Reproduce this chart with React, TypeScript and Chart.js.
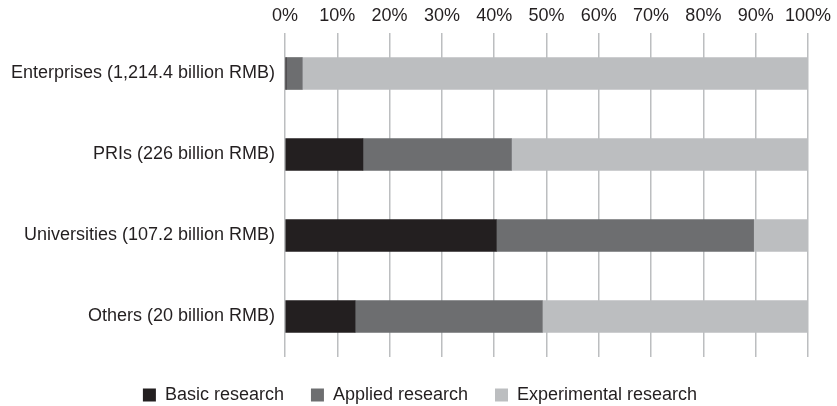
import React, { useEffect, useRef } from "react";
import { Chart, registerables } from "chart.js";

Chart.register(...registerables);

const categories = [
  "Enterprises (1,214.4 billion RMB)",
  "PRIs (226 billion RMB)",
  "Universities (107.2 billion RMB)",
  "Others (20 billion RMB)",
];

const basicResearch = [0.2, 14.9, 40.4, 13.4];
const appliedResearch = [3.1, 28.4, 49.2, 35.8];
const experimentalResearch = [96.7, 56.7, 10.4, 50.8];

const seriesNames = ["Basic research", "Applied research", "Experimental research"];
const seriesColors = ["#231f20", "#6d6e70", "#bcbec0"];

const xTicks = [0, 10, 20, 30, 40, 50, 60, 70, 80, 90, 100];

const FONT = "'Liberation Sans', Arial, Helvetica, sans-serif";
const TEXT = "#231f20";
const SIZE = 18;

// Nudges the legend row so it sits under the centre of the whole figure
const legendShift = {
  id: "legendShift",
  afterLayout(chart: any) {
    const legend = chart.legend;
    if (legend) {
      legend.left += 16;
      legend.right += 16;
      legend.top += 2;
      legend.bottom += 2;
    }
  },
};

export default function App() {
  const canvasRef = useRef<HTMLCanvasElement | null>(null);

  useEffect(() => {
    const canvas = canvasRef.current;
    if (!canvas) return;
    const values = [basicResearch, appliedResearch, experimentalResearch];
    const chart = new Chart(canvas, {
      type: "bar",
      data: {
        labels: categories,
        datasets: seriesNames.map((name, i) => ({
          label: name,
          data: values[i],
          backgroundColor: seriesColors[i],
          borderWidth: 0,
          barThickness: 32,
        })),
      },
      options: {
        indexAxis: "y",
        responsive: false,
        animation: false,
        layout: { padding: { left: 0, right: 29, top: 0, bottom: 0 } },
        scales: {
          x: {
            position: "top",
            stacked: true,
            min: 0,
            max: 100,
            afterBuildTicks: (scale: any) => {
              scale.ticks = xTicks.map((v) => ({ value: v }));
            },
            afterFit: (scale: any) => {
              scale.height = 33;
            },
            grid: { color: "#bcbec0", lineWidth: 1.5, drawTicks: false },
            border: { display: false },
            ticks: {
              padding: 6,
              color: TEXT,
              font: { family: FONT, size: SIZE },
              callback: (v: any) => `${v}%`,
              maxRotation: 0,
              autoSkip: false,
            },
          },
          y: {
            stacked: true,
            afterFit: (scale: any) => {
              scale.width = 285;
            },
            grid: { display: false, drawTicks: false },
            border: { display: false },
            ticks: {
              padding: 10,
              color: TEXT,
              font: { family: FONT, size: SIZE },
            },
          },
        },
        plugins: {
          legend: {
            position: "bottom",
            maxHeight: 49,
            labels: {
              boxWidth: 13,
              boxHeight: 13,
              padding: 27,
              color: TEXT,
              font: { family: FONT, size: SIZE },
            },
          },
          tooltip: { enabled: false },
        },
      },
      plugins: [legendShift],
    });
    return () => chart.destroy();
  }, []);

  return (
    <div style={{ position: "absolute", left: 0, top: 0, width: 837, height: 406, background: "#fff" }}>
      <canvas ref={canvasRef} width={837} height={406} />
    </div>
  );
}
